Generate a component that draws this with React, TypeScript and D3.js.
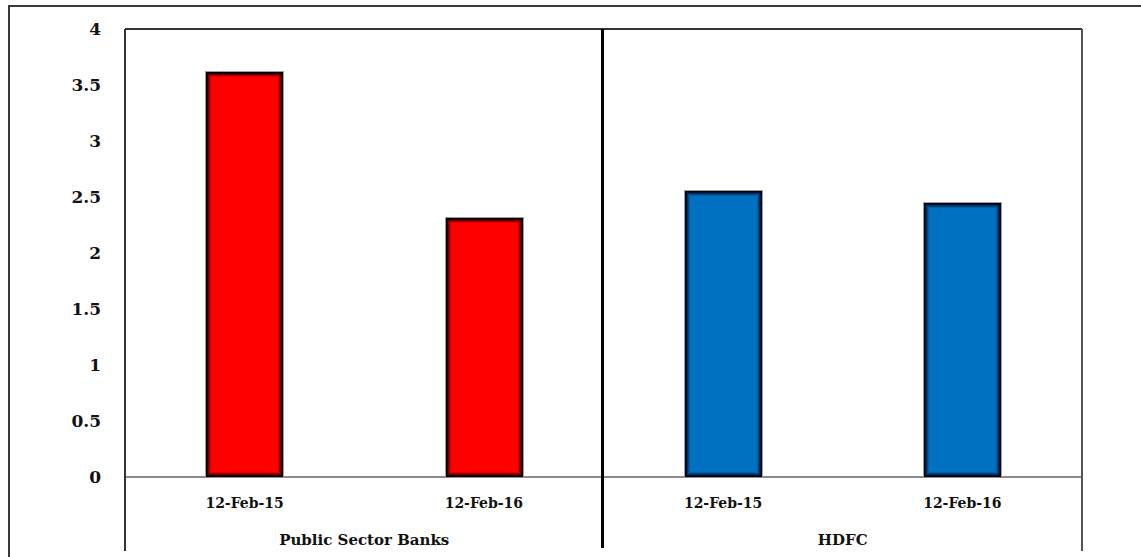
import React from "react";
import * as d3 from "d3";

const groups = ["Public Sector Banks", "HDFC"];
const dates = ["12-Feb-15", "12-Feb-16"];
const psbValues = [3.62, 2.31];
const hdfcValues = [2.55, 2.45];
const groupColors = ["#ff0000", "#0070c0"];
const groupEdge = ["#000000", "#000015"];
const yTicks = [0, 0.5, 1, 1.5, 2, 2.5, 3, 3.5, 4];
const edgeOpacity = [1, 0.85, 0.6, 0.35, 0.15];

const W = 1141;
const H = 557;
const M = { left: 125, right: 1082, top: 29, bottom: 477 };
const AXIS_BOTTOM = 551;

type Datum = { key: string; group: number; date: string; value: number };

const data: Datum[] = [];
[psbValues, hdfcValues].forEach((vals, g) => {
  vals.forEach((v, i) => data.push({ key: `${g}-${i}`, group: g, date: dates[i], value: v }));
});

export default function App() {
  const x = d3.scaleBand<string>().domain(data.map((d) => d.key)).range([M.left, M.right]).paddingInner(0).paddingOuter(0);
  const y = d3.scaleLinear().domain([0, 4]).range([M.bottom, M.top]);
  const bw = x.bandwidth() * 0.32;
  const serif = "'DejaVu Serif', 'Liberation Serif', serif";

  const groupX = groups.map((_, g) => {
    const keys = data.filter((d) => d.group === g).map((d) => d.key);
    const x0 = x(keys[0])!;
    const x1 = x(keys[keys.length - 1])! + x.bandwidth();
    return [x0, x1];
  });
  const divX = groupX[0][1] - 1;

  return (
    <div style={{ position: "absolute", left: 0, top: 0, width: W, height: H, overflow: "hidden", background: "#fff" }}>
      <svg width={W} height={H} style={{ display: "block" }}>
        {/* outer frame */}
        <rect x={9} y={6} width={W + 50} height={H + 50} fill="none" stroke="#3a3a3a" strokeWidth={2} />

        {/* y tick labels */}
        {yTicks.map((t) => (
          <text key={t} x={101} y={y(t)} dy="0.35em" textAnchor="end" fontFamily={serif} fontWeight="bold" fontSize={17} fill="#111">
            {t}
          </text>
        ))}

        {/* zero line */}
        <line x1={M.left} x2={M.right} y1={y(0)} y2={y(0)} stroke="#8a8a8a" strokeWidth={2} />

        {/* bars */}
        {data.map((d) => {
          const cx = x(d.key)! + x.bandwidth() / 2;
          const x0 = Math.round(cx - bw / 2);
          const y0 = Math.round(y(d.value));
          const w = Math.round(bw);
          const h = Math.round(y(0)) - y0;
          return (
            <g key={d.key}>
              <rect x={x0 - 1} y={y0 - 1} width={w + 2} height={h + 1} fill="#a0a0a0" />
              <rect x={x0} y={y0} width={w} height={h} fill={groupColors[d.group]} />
              {edgeOpacity.map((o, i) => (
                <rect
                  key={i}
                  x={x0 + i + 0.5}
                  y={y0 + i + 0.5}
                  width={w - 2 * i - 1}
                  height={h - 2 * i - 1}
                  fill="none"
                  stroke={groupEdge[d.group]}
                  strokeOpacity={o}
                  strokeWidth={1}
                />
              ))}
            </g>
          );
        })}

        {/* plot frame */}
        <line x1={M.left} x2={M.right} y1={M.top} y2={M.top} stroke="#333" strokeWidth={2} />
        <line x1={M.left} x2={M.left} y1={M.top} y2={AXIS_BOTTOM} stroke="#333" strokeWidth={2} />
        <line x1={M.right} x2={M.right} y1={M.top} y2={AXIS_BOTTOM} stroke="#555" strokeWidth={2} />
        <line x1={divX} x2={divX} y1={M.top} y2={AXIS_BOTTOM - 3} stroke="#000" strokeWidth={3} />

        {/* category labels */}
        {data.map((d) => (
          <text key={d.key} x={x(d.key)! + x.bandwidth() / 2} y={503} dy="0.35em" textAnchor="middle" fontFamily={serif} fontWeight="bold" fontSize={14} fill="#111">
            {d.date}
          </text>
        ))}
        {groups.map((g, i) => (
          <text key={g} x={(groupX[i][0] + groupX[i][1]) / 2} y={540} dy="0.35em" textAnchor="middle" fontFamily={serif} fontWeight="bold" fontSize={15} fill="#111">
            {g}
          </text>
        ))}
      </svg>
    </div>
  );
}
